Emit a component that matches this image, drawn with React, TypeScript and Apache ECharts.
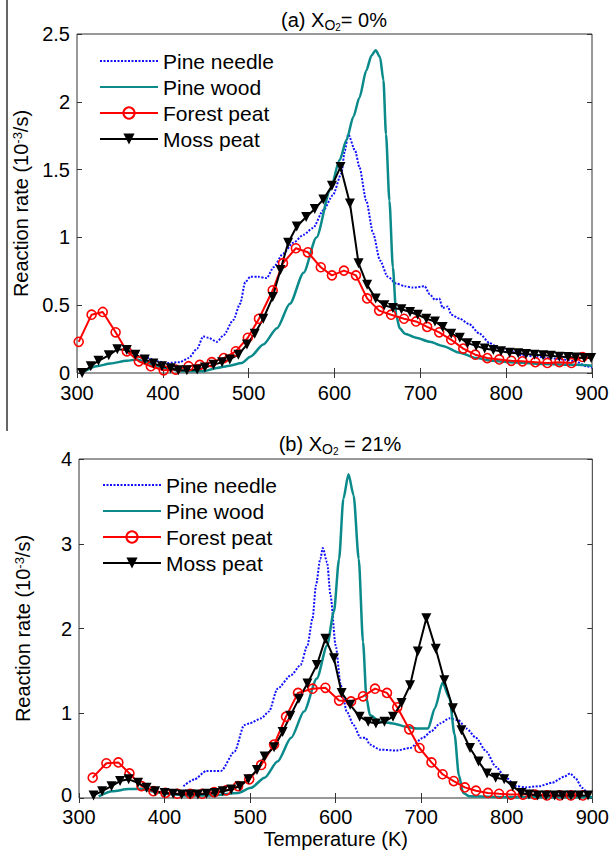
import React, { useEffect, useRef } from "react";
import * as echarts from "echarts";

// ---------- Panel (a): X_O2 = 0% ----------
const needleA_T = [374,383,393,405,420,430,440,447,453,463,471,482,490,496,502,511,521,529,540,552,564,575,587,598,608,612,616,624,629,637,645,653,662,672,682,691,705,711,717,722,726,732,736,746,757,769,781,792,804,819,835,850,866,881,893,900];
const needleA_R = [0.13,0.11,0.086,0.074,0.08,0.11,0.18,0.27,0.26,0.23,0.28,0.39,0.51,0.67,0.71,0.71,0.70,0.78,0.88,0.96,1.02,1.07,1.20,1.31,1.47,1.64,1.76,1.64,1.52,1.27,1.03,0.83,0.71,0.66,0.64,0.63,0.64,0.58,0.54,0.55,0.48,0.49,0.43,0.40,0.36,0.29,0.22,0.18,0.16,0.13,0.12,0.11,0.10,0.086,0.05,0.04];

const woodA_T = [308,323,339,358,370,378,393,409,424,447,463,478,492,502,517,533,548,564,579,595,606,614,622,629,637,643,648,653,657,660,664,668,672,676,682,695,711,726,746,765,784,804,843,881,900];
const woodA_R = [0.01,0.05,0.07,0.09,0.10,0.086,0.05,0.025,0.012,0.012,0.037,0.054,0.074,0.12,0.21,0.33,0.51,0.74,1.00,1.35,1.57,1.72,1.89,2.03,2.23,2.34,2.38,2.33,2.16,1.76,1.27,0.78,0.42,0.33,0.29,0.26,0.23,0.20,0.15,0.11,0.09,0.08,0.066,0.06,0.054];

const forestA_T = [302,317,330,345,358,372,386,401,415,430,443,457,471,485,499,512,528,540,555,569,584,597,611,625,638,652,666,681,695,708,722,736,750,764,778,792,806,819,834,848,862,876,889];
const forestA_R = [0.23,0.43,0.45,0.30,0.16,0.086,0.05,0.02,0.025,0.05,0.06,0.08,0.11,0.16,0.26,0.40,0.61,0.81,0.92,0.89,0.78,0.72,0.755,0.72,0.55,0.46,0.43,0.40,0.38,0.34,0.30,0.245,0.18,0.135,0.11,0.10,0.09,0.086,0.08,0.074,0.08,0.074,0.118];

const mossA_T = [306,316,325,337,347,358,368,379,389,399,409,418,428,440,449,459,469,478,488,498,507,517,528,537,546,556,567,577,587,597,607,618,628,638,648,658,668,678,688,697,707,717,726,736,746,755,765,775,785,794,804,814,823,833,843,852,862,872,881,891,899];
const mossA_R = [0.0,0.05,0.09,0.13,0.175,0.17,0.135,0.10,0.07,0.05,0.035,0.02,0.02,0.025,0.04,0.06,0.08,0.10,0.135,0.21,0.29,0.40,0.56,0.76,0.96,1.08,1.15,1.21,1.28,1.38,1.52,1.25,0.81,0.65,0.55,0.50,0.48,0.47,0.45,0.43,0.40,0.38,0.34,0.29,0.26,0.22,0.20,0.18,0.17,0.16,0.15,0.145,0.14,0.135,0.13,0.128,0.12,0.118,0.115,0.11,0.11];

// ---------- Panel (b): X_O2 = 21% ----------
const needleB_T = [422,435,449,466,482,493,499,513,522,532,548,559,567,573,577,582,585,590,594,600,606,613,621,629,635,640,652,671,687,702,712,722,733,743,753,764,776,787,799,811,822,838,853,867,874,880,888,896];
const needleB_R = [0.14,0.22,0.32,0.32,0.55,0.86,0.88,0.94,1.02,1.29,1.45,1.57,1.80,2.12,2.51,2.82,2.95,2.78,2.39,1.80,1.33,1.02,0.86,0.71,0.71,0.63,0.57,0.56,0.59,0.71,0.79,0.88,0.94,0.92,0.82,0.71,0.55,0.37,0.24,0.14,0.125,0.14,0.18,0.25,0.29,0.24,0.12,0.03];

const woodB_T = [323,339,358,372,385,401,424,455,486,501,517,532,548,563,578,590,598,604,609,615,621,627,632,636,640,652,667,683,695,708,716,725,733,739,744,749,756,803,900];
const woodB_R = [0.02,0.08,0.105,0.11,0.08,0.05,0.03,0.03,0.06,0.12,0.24,0.43,0.71,1.02,1.41,1.80,2.20,2.82,3.53,3.82,3.57,2.82,1.84,1.18,0.98,0.90,0.88,0.84,0.82,0.82,1.06,1.36,1.18,0.75,0.27,0.06,0.02,0.01,0.01];

const forestB_T = [316,332,346,359,373,387,401,415,430,444,458,472,486,499,513,528,542,556,573,588,604,618,632,646,660,672,686,698,712,725,738,751,764,778,791,805,819,833,847,862,875,889];
const forestB_R = [0.24,0.41,0.42,0.29,0.14,0.08,0.06,0.05,0.05,0.05,0.07,0.09,0.14,0.22,0.39,0.63,0.96,1.24,1.29,1.30,1.15,1.14,1.20,1.29,1.24,1.07,0.81,0.59,0.42,0.28,0.20,0.125,0.086,0.06,0.05,0.04,0.04,0.04,0.03,0.03,0.03,0.03];

const mossB_T = [317,327,338,348,358,369,379,389,400,410,420,430,439,449,459,468,478,488,498,508,517,528,538,547,557,567,578,588,598,607,617,628,638,647,657,667,677,687,696,706,717,727,737,747,757,767,777,787,797,807,817,826,836,846,856,865,875,885,895];
const mossB_R = [0.03,0.08,0.14,0.20,0.22,0.18,0.12,0.08,0.06,0.05,0.04,0.04,0.04,0.05,0.06,0.08,0.10,0.14,0.22,0.33,0.49,0.60,0.78,0.97,1.17,1.35,1.57,1.88,1.65,1.24,1.10,0.96,0.90,0.88,0.90,0.96,1.12,1.33,1.73,2.12,1.76,1.39,1.06,0.80,0.59,0.43,0.29,0.24,0.22,0.14,0.06,0.04,0.03,0.03,0.03,0.03,0.03,0.03,0.03];

const seriesNames = ["Pine needle", "Pine wood", "Forest peat", "Moss peat"];
const xTicks = { min: 300, max: 900, interval: 100 };
const yTicksA = { min: 0, max: 2.5, interval: 0.5 };
const yTicksB = { min: 0, max: 4, interval: 1 };

const FONT = "'Liberation Sans', Arial, Helvetica, sans-serif";
const AXIS_COLOR = "#333333";

const zip = (t: number[], r: number[]) => t.map((v, i) => [v, r[i]]);

export default function App() {
  const ref = useRef<HTMLDivElement>(null);

  useEffect(() => {
    document.body.style.margin = "0";
    if (!ref.current) return;
    const chart = echarts.init(ref.current, undefined, { renderer: "svg" });

    const styles: Record<string, any> = {
      "Pine needle": {
        showSymbol: false,
        symbol: "none",
        lineStyle: { color: "#1010ff", width: 2, type: [2, 1.5] },
        itemStyle: { color: "rgba(0,0,0,0)", borderWidth: 0 },
        smooth: 0.25,
        smoothMonotone: "x",
      },
      "Pine wood": {
        showSymbol: false,
        symbol: "none",
        lineStyle: { color: "#0a8a8a", width: 2.5 },
        itemStyle: { color: "rgba(0,0,0,0)", borderWidth: 0 },
        smooth: 0.25,
        smoothMonotone: "x",
      },
      "Forest peat": {
        symbol: "circle",
        symbolSize: 9,
        lineStyle: { color: "#ff0000", width: 2 },
        itemStyle: { color: "rgba(255,255,255,0)", borderColor: "#ff0000", borderWidth: 1.6 },
      },
      "Moss peat": {
        symbol: "triangle",
        symbolRotate: 180,
        symbolSize: 10,
        lineStyle: { color: "#000000", width: 2 },
        itemStyle: { color: "#000000" },
      },
    };

    const mk = (name: string, t: number[], r: number[], panel: number) => ({
      type: "line",
      name,
      xAxisIndex: panel * 2,
      yAxisIndex: panel * 2,
      data: zip(t, r),
      ...styles[name],
    });

    const tick = { show: true, inside: true, length: 5, lineStyle: { color: AXIS_COLOR, width: 1 } };
    const label = { fontSize: 20, lineHeight: 16, color: "#000", fontFamily: FONT };

    const xAxisPair = (grid: number, margin: number, withName: boolean) => [
      {
        type: "value",
        gridIndex: grid,
        position: "bottom",
        ...xTicks,
        axisLine: { show: false },
        axisTick: tick,
        splitLine: { show: false },
        axisLabel: { ...label, margin },
        name: withName ? "Temperature (K)" : "",
        nameLocation: "middle",
        nameGap: 31,
        nameTextStyle: { fontSize: 20, color: "#000", fontFamily: FONT },
      },
      {
        type: "value",
        gridIndex: grid,
        position: "top",
        ...xTicks,
        axisLine: { show: false },
        axisTick: tick,
        splitLine: { show: false },
        axisLabel: { show: false },
      },
    ];

    const yName = "Reaction rate (10{sup|-3}/s)";
    const yAxisPair = (grid: number, ticks: any, liftZero: boolean) => [
      {
        type: "value",
        gridIndex: grid,
        position: "left",
        ...ticks,
        axisLine: { show: false },
        axisTick: tick,
        splitLine: { show: false },
        axisLabel: {
          ...label,
          margin: 7,
          formatter: (v: number) => (liftZero && v === 0 ? "{z|0}" : String(v)),
          rich: { z: { fontSize: 20, lineHeight: 16, color: "#000", fontFamily: FONT, padding: [0, 0, 6, 0] } },
        },
        name: yName,
        nameLocation: "middle",
        nameGap: 46,
        nameTextStyle: {
          fontSize: 20,
          color: "#000",
          fontFamily: FONT,
          rich: { sup: { fontSize: 13, color: "#000", fontFamily: FONT, verticalAlign: "top", lineHeight: 20 } },
        },
      },
      {
        type: "value",
        gridIndex: grid,
        position: "right",
        ...ticks,
        axisLine: { show: false },
        axisTick: tick,
        splitLine: { show: false },
        axisLabel: { show: false },
      },
    ];

    const legendBase = {
      orient: "vertical",
      itemWidth: 58,
      itemHeight: 14,
      itemGap: 4,
      padding: 0,
      selectedMode: false,
      textStyle: { fontSize: 21, lineHeight: 22, color: "#000", fontFamily: FONT },
      data: seriesNames,
    };

    const titleRich = {
      a: { fontSize: 20, color: "#000", fontFamily: FONT, lineHeight: 24 },
      o: { fontSize: 14, color: "#000", fontFamily: FONT, verticalAlign: "bottom", lineHeight: 20 },
      n: { fontSize: 10, color: "#000", fontFamily: FONT, verticalAlign: "bottom", lineHeight: 17 },
    };

    chart.setOption({
      animation: false,
      backgroundColor: "#ffffff",
      textStyle: { fontFamily: FONT },
      grid: [
        { left: 77, top: 34, width: 515, height: 339, show: true, borderColor: AXIS_COLOR, borderWidth: 1, backgroundColor: "transparent" },
        { left: 79, top: 459, width: 516, height: 339, show: true, borderColor: AXIS_COLOR, borderWidth: 1, backgroundColor: "transparent" },
      ],
      xAxis: [...xAxisPair(0, 12, false), ...xAxisPair(1, 11, true)],
      yAxis: [...yAxisPair(0, yTicksA, false), ...yAxisPair(1, yTicksB, true)],
      legend: [
        { ...legendBase, left: 99, top: 50 },
        { ...legendBase, left: 102, top: 474 },
      ],
      graphic: [
        {
          type: "line",
          shape: { x1: 7, y1: 0, x2: 7, y2: 431 },
          style: { stroke: "#333", lineWidth: 1.5 },
        },
        {
          type: "text",
          x: 334,
          y: 20,
          style: {
            text: "{a|(a) X}{o|O}{n|2}{a|= 0%}",
            rich: titleRich,
            align: "center",
            verticalAlign: "middle",
            textAlign: "center",
            textVerticalAlign: "middle",
          },
        },
        {
          type: "text",
          x: 340,
          y: 444,
          style: {
            text: "{a|(b) X}{o|O}{n|2}{a| = 21%}",
            rich: titleRich,
            align: "center",
            verticalAlign: "middle",
            textAlign: "center",
            textVerticalAlign: "middle",
          },
        },
      ],
      series: [
        mk("Pine needle", needleA_T, needleA_R, 0),
        mk("Pine wood", woodA_T, woodA_R, 0),
        mk("Forest peat", forestA_T, forestA_R, 0),
        mk("Moss peat", mossA_T, mossA_R, 0),
        mk("Pine needle", needleB_T, needleB_R, 1),
        mk("Pine wood", woodB_T, woodB_R, 1),
        mk("Forest peat", forestB_T, forestB_R, 1),
        mk("Moss peat", mossB_T, mossB_R, 1),
      ],
    });

    return () => chart.dispose();
  }, []);

  return <div ref={ref} style={{ width: 612, height: 858 }} />;
}
